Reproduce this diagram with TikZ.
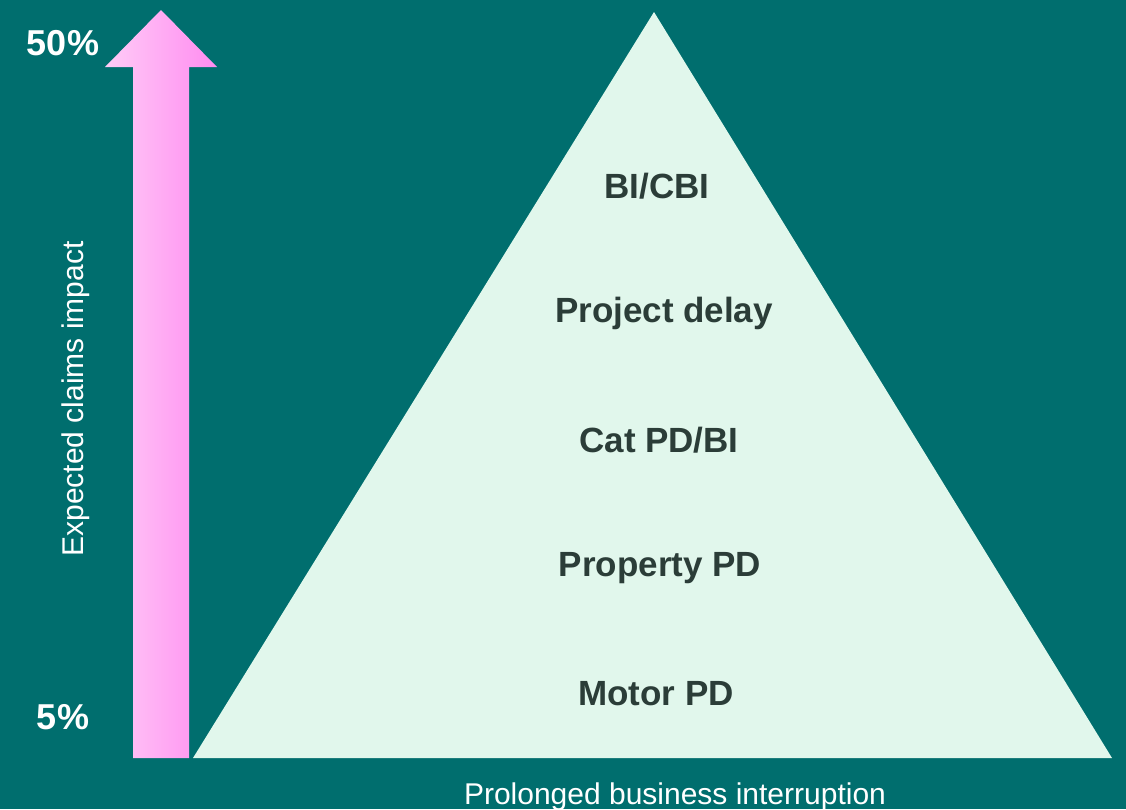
\documentclass[tikz,border=0pt]{standalone}
\usepackage{fontspec}
\setmainfont{Liberation Sans}
\definecolor{teal}{HTML}{006E6E}
\definecolor{mint}{HTML}{E1F7EC}
\definecolor{darktext}{HTML}{2B3D38}
\definecolor{pinklight}{HTML}{FFCCF7}
\definecolor{pinkdark}{HTML}{FF8CF0}
\tikzset{
  level/.style={font=\fontsize{35}{40}\selectfont\bfseries, text=darktext},
  pct/.style={font=\fontsize{36}{42}\selectfont\bfseries, text=white},
  axislabel/.style={font=\fontsize{30}{36}\selectfont, text=white}
}
\begin{document}
\begin{tikzpicture}[x=1pt,y=-1pt]
\fill[teal] (0,0) rectangle (1126,809);
\useasboundingbox (0,0) rectangle (1126,809);
% pyramid
\fill[mint] (193,758)--(654,12)--(1112,758)--cycle;
% arrow
\shade[left color=pinklight, right color=pinkdark] (133,758)--(133,67)--(105,67)--(161,10)--(217,67)--(189,67)--(189,758)--cycle;
\node[pct] (high) at (63,43) {50\%};
\node[pct] (low) at (63,717) {5\%};
\node[axislabel, rotate=90] (impact) at (76,399) {Expected claims impact};
\node[axislabel] (duration) at (675,797) {Prolonged business interruption};
\node[level] (bi) at (657,186) {BI/CBI};
\node[level] (delay) at (664,313) {Project delay};
\node[level] (cat) at (659,440) {Cat PD/BI};
\node[level] (property) at (660,568) {Property PD};
\node[level] (motor) at (656,694) {Motor PD};
\end{tikzpicture}
\end{document}
